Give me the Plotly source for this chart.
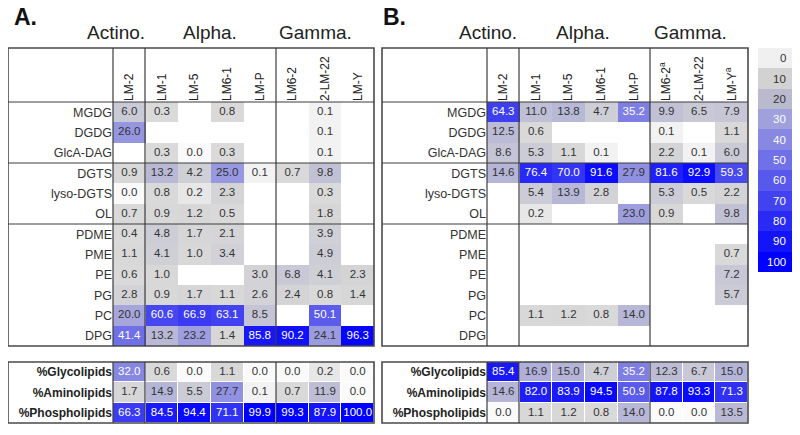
import plotly.graph_objects as go

# ---------------- data ----------------
rows = ["MGDG", "DGDG", "GlcA-DAG", "DGTS", "lyso-DGTS", "OL",
        "PDME", "PME", "PE", "PG", "PC", "DPG"]
cols = ["LM-2", "LM-1", "LM-5", "LM6-1", "LM-P", "LM6-2", "2-LM-22", "LM-Y"]
col_labels_a = ["LM-2", "LM-1", "LM-5", "LM6-1", "LM-P", "LM6-2", "2-LM-22", "LM-Y"]
col_labels_b = ["LM-2", "LM-1", "LM-5", "LM6-1", "LM-P",
                "LM6-2<sup>a</sup>", "2-LM-22", "LM-Y<sup>a</sup>"]
sums = ["%Glycolipids", "%Aminolipids", "%Phospholipids"]
groups = ["Actino.", "Alpha.", "Gamma."]
panels = ["A.", "B."]
legend_vals = [0, 10, 20, 30, 40, 50, 60, 70, 80, 90, 100]

N = None
a_main = [
    [6.0, 0.3, N, 0.8, N, N, 0.1, N],
    [26.0, N, N, N, N, N, 0.1, N],
    [N, 0.3, 0.0, 0.3, N, N, 0.1, N],
    [0.9, 13.2, 4.2, 25.0, 0.1, 0.7, 9.8, N],
    [0.0, 0.8, 0.2, 2.3, N, N, 0.3, N],
    [0.7, 0.9, 1.2, 0.5, N, N, 1.8, N],
    [0.4, 4.8, 1.7, 2.1, N, N, 3.9, N],
    [1.1, 4.1, 1.0, 3.4, N, N, 4.9, N],
    [0.6, 1.0, N, N, 3.0, 6.8, 4.1, 2.3],
    [2.8, 0.9, 1.7, 1.1, 2.6, 2.4, 0.8, 1.4],
    [20.0, 60.6, 66.9, 63.1, 8.5, N, 50.1, N],
    [41.4, 13.2, 23.2, 1.4, 85.8, 90.2, 24.1, 96.3],
]
a_sum = [
    [32.0, 0.6, 0.0, 1.1, 0.0, 0.0, 0.2, 0.0],
    [1.7, 14.9, 5.5, 27.7, 0.1, 0.7, 11.9, 0.0],
    [66.3, 84.5, 94.4, 71.1, 99.9, 99.3, 87.9, 100.0],
]
b_main = [
    [64.3, 11.0, 13.8, 4.7, 35.2, 9.9, 6.5, 7.9],
    [12.5, 0.6, N, N, N, 0.1, N, 1.1],
    [8.6, 5.3, 1.1, 0.1, N, 2.2, 0.1, 6.0],
    [14.6, 76.4, 70.0, 91.6, 27.9, 81.6, 92.9, 59.3],
    [N, 5.4, 13.9, 2.8, N, 5.3, 0.5, 2.2],
    [N, 0.2, N, N, 23.0, 0.9, N, 9.8],
    [N, N, N, N, N, N, N, N],
    [N, N, N, N, N, N, N, 0.7],
    [N, N, N, N, N, N, N, 7.2],
    [N, N, N, N, N, N, N, 5.7],
    [N, 1.1, 1.2, 0.8, 14.0, N, N, N],
    [N, N, N, N, N, N, N, N],
]
b_sum = [
    [85.4, 16.9, 15.0, 4.7, 35.2, 12.3, 6.7, 15.0],
    [14.6, 82.0, 83.9, 94.5, 50.9, 87.8, 93.3, 71.3],
    [0.0, 1.1, 1.2, 0.8, 14.0, 0.0, 0.0, 13.5],
]

# ---------------- styles ----------------
# the page body has an 8px margin: the figure is drawn from (8, 8)
ORG = 8
W, H = 792, 427
def X(p): return (p - ORG) / W
def Y(p): return 1 - (p - ORG) / H

cell_scale = [
    [0.0, "rgb(250,250,250)"], [0.0015, "rgb(238,238,238)"], [0.003, "rgb(218,218,218)"],
    [0.02, "rgb(213,213,215)"], [0.06, "rgb(202,202,214)"], [0.13, "rgb(186,186,214)"],
    [0.25, "rgb(152,152,224)"], [0.35, "rgb(126,126,228)"], [0.45, "rgb(102,102,234)"],
    [0.60, "rgb(72,72,240)"], [0.75, "rgb(42,42,246)"], [0.90, "rgb(16,16,252)"],
    [1.0, "rgb(0,0,255)"],
]
legend_colors = ["rgb(240,240,240)", "rgb(210,210,210)", "rgb(186,186,206)",
                 "rgb(160,160,220)", "rgb(136,136,226)", "rgb(112,112,232)",
                 "rgb(88,88,236)", "rgb(66,66,240)", "rgb(42,42,246)",
                 "rgb(20,20,250)", "rgb(0,0,255)"]
legend_scale = [[v / 100, c] for v, c in zip(legend_vals, legend_colors)]

VAL_FONT = "Arial"
DARK = "#333333"

fig = go.Figure()

def add_table(z, rlabels, xa, ya, gap):
    fig.add_trace(go.Heatmap(
        z=z, x=cols, y=rlabels, xaxis=xa, yaxis=ya, colorscale=cell_scale,
        zmin=0, zmax=100, showscale=False, hoverinfo="skip", xgap=gap, ygap=gap))
    xs, ys, ts, cs = [], [], [], []
    for r, row in zip(rlabels, z):
        for c, v in zip(cols, row):
            if v is None:
                continue
            xs.append(c); ys.append(r); ts.append(f"{v:.1f}")
            cs.append("white" if v > 30 else DARK)
    fig.add_trace(go.Scatter(
        x=xs, y=ys, text=ts, mode="text", xaxis=xa, yaxis=ya,
        textfont=dict(family=VAL_FONT, size=11.5, color=cs),
        hoverinfo="skip", showlegend=False))

add_table(a_main, rows, "x", "y", 0)
add_table(a_sum, sums, "x2", "y2", 1)
add_table(b_main, rows, "x3", "y3", 0)
add_table(b_sum, sums, "x4", "y4", 1)

# legend strip
leg_labels = [str(v) for v in legend_vals]
fig.add_trace(go.Heatmap(
    z=[[v] for v in legend_vals], x=["k"], y=leg_labels, xaxis="x5", yaxis="y5",
    colorscale=legend_scale, zmin=0, zmax=100, showscale=False, hoverinfo="skip"))

# ---------------- axes ----------------
PANEL_OFF = [0, 374]
lay = {}
axis_common = dict(type="category", showgrid=False, zeroline=False, showline=False,
                   ticks="", fixedrange=True)
for i, off in enumerate(PANEL_OFF):
    n_main = 1 + 2 * i
    n_sum = 2 + 2 * i
    xdom = [X(113 + off), X(374 + off)]
    labels = col_labels_a if i == 0 else col_labels_b
    lay[f"xaxis{'' if n_main == 1 else n_main}"] = dict(
        axis_common, domain=xdom, anchor=f"y{'' if n_main == 1 else n_main}",
        side="top", categoryorder="array", categoryarray=cols,
        tickvals=cols, ticktext=labels, range=[-0.5, 7.5], tickangle=-90,
        tickfont=dict(family="Arial", size=12, color="#222"))
    lay[f"yaxis{'' if n_main == 1 else n_main}"] = dict(
        axis_common, domain=[Y(346), Y(102)], anchor=f"x{'' if n_main == 1 else n_main}",
        categoryorder="array", categoryarray=rows, range=[11.5, -0.5],
        tickfont=dict(family="Arial", size=12.5, color=DARK))
    lay[f"xaxis{n_sum}"] = dict(
        axis_common, domain=xdom, anchor=f"y{n_sum}", categoryorder="array",
        categoryarray=cols, range=[-0.5, 7.5], showticklabels=False)
    lay[f"yaxis{n_sum}"] = dict(
        axis_common, domain=[Y(423), Y(362)], anchor=f"x{n_sum}",
        categoryorder="array", categoryarray=sums, range=[2.5, -0.5],
        tickfont=dict(family="Arial", size=12, color="#222", weight="bold"))

lay["xaxis5"] = dict(axis_common, domain=[X(758), X(792)], anchor="y5",
                     showticklabels=False)
lay["yaxis5"] = dict(axis_common, domain=[Y(272), Y(48)], anchor="x5",
                     categoryorder="array", categoryarray=leg_labels,
                     range=[10.5, -0.5], showticklabels=False)

# ---------------- lines ----------------
shapes = []
LC = "#3c3c3c"
def ln(x0, y0, x1, y1, w=1.2, c=LC):
    shapes.append(dict(type="line", xref="paper", yref="paper",
                       x0=X(x0), y0=Y(y0), x1=X(x1), y1=Y(y1),
                       line=dict(color=c, width=w)))
def box(x0, y0, x1, y1):
    shapes.append(dict(type="rect", xref="paper", yref="paper",
                       x0=X(x0), y0=Y(y0), x1=X(x1), y1=Y(y1),
                       line=dict(color="#4a4a4a", width=1.6)))

for off in PANEL_OFF:
    box(8 + off, 48, 374 + off, 346)
    for vx in (113, 145, 276):
        ln(vx + off, 48, vx + off, 346)
    for hy in (102, 163, 224):
        ln(8 + off, hy, 374 + off, hy)
    box(8 + off, 362, 374 + off, 423)
    for vx in (113, 145, 276):
        ln(vx + off, 362, vx + off, 423)

# ---------------- annotations ----------------
ann = []
title_px = [12, 381]
group_px = [[116, 210, 315], [488, 583, 690]]
for title, tx, gp in zip(panels, title_px, group_px):
    ann.append(dict(text=f"<b>{title}</b>", x=X(tx), y=Y(17),
                    xref="paper", yref="paper", xanchor="left", yanchor="middle",
                    showarrow=False, font=dict(family="Arial", size=23, color="#111")))
    for g, gx in zip(groups, gp):
        ann.append(dict(text=g, x=X(gx), y=Y(33), xref="paper", yref="paper",
                        xanchor="center", yanchor="middle", showarrow=False,
                        font=dict(family="Arial", size=19, color="#222")))
for idx, (v, lab) in enumerate(zip(legend_vals, leg_labels)):
    ann.append(dict(text=lab, xref="x5 domain", x=0.88, yref="y5", y=idx,
                    xanchor="right", yanchor="middle", showarrow=False,
                    font=dict(family=VAL_FONT, size=11.5,
                              color="white" if v >= 30 else DARK)))

fig.update_layout(
    width=W, height=H, margin=dict(l=0, r=0, t=0, b=0),
    paper_bgcolor="white", plot_bgcolor="white", showlegend=False,
    shapes=shapes, annotations=ann, **lay)

fig.write_html("out.html")
